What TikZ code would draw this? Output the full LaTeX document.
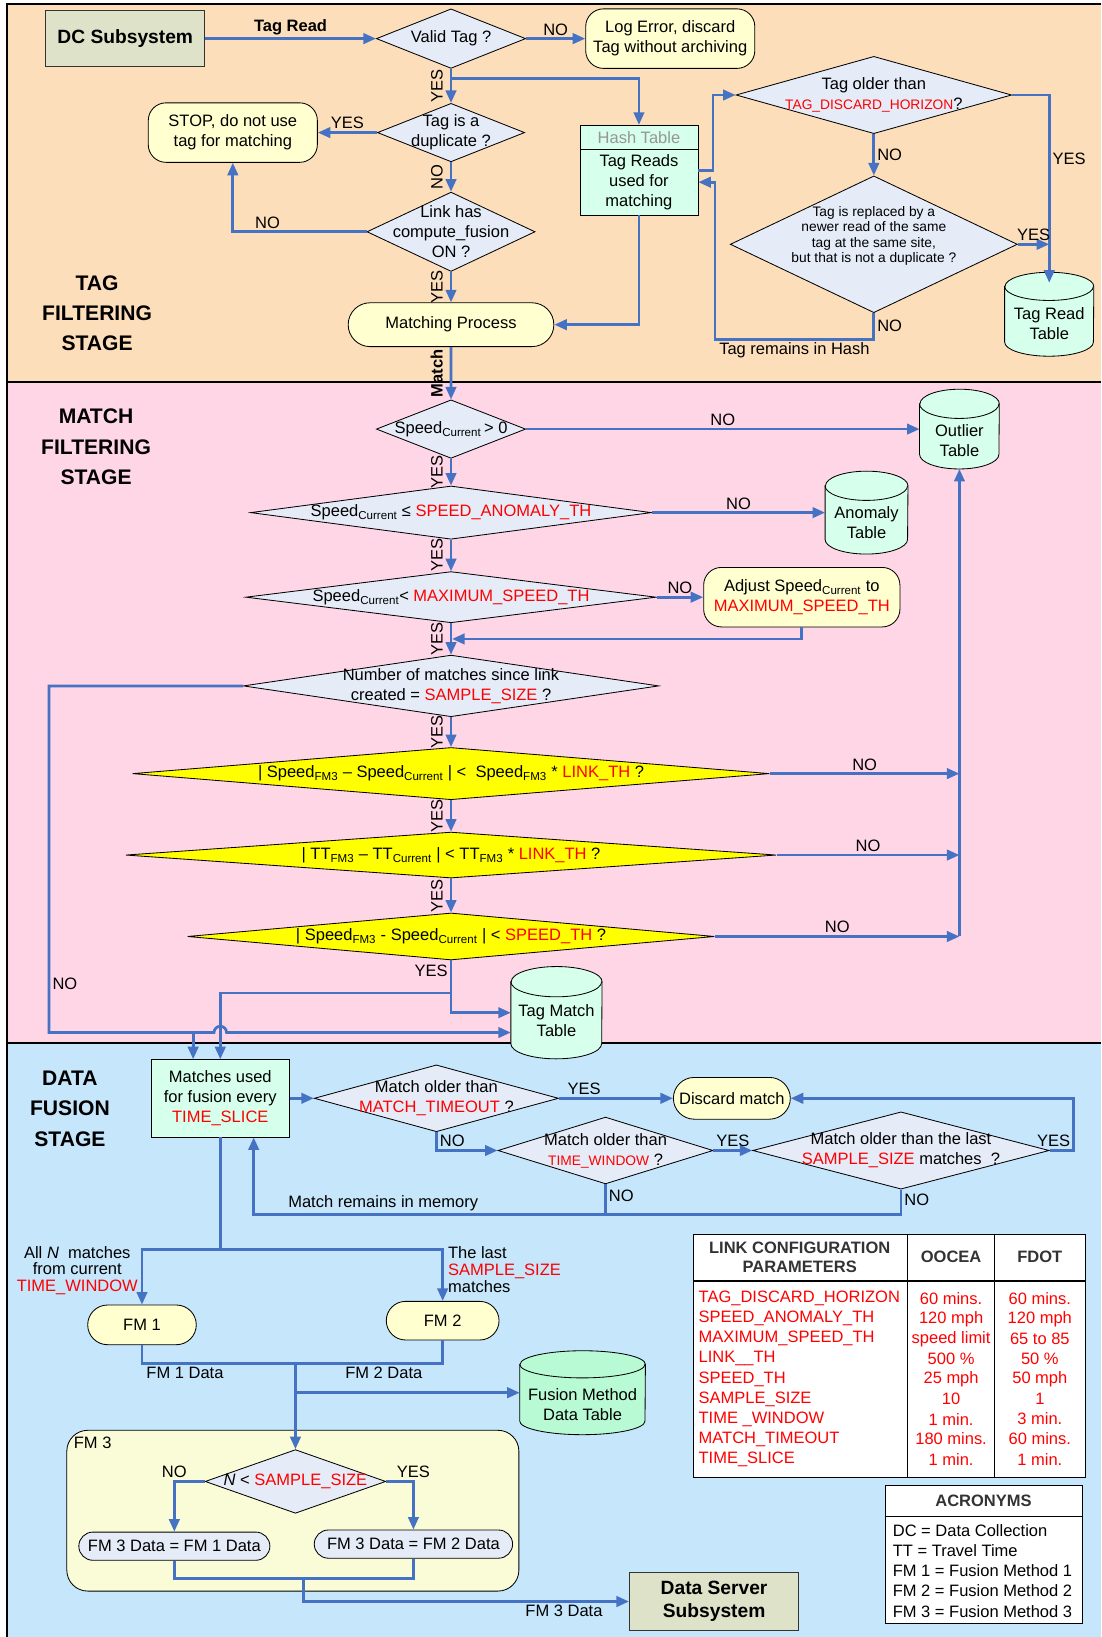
\documentclass[tikz,border=0pt]{standalone}
\usepackage{fontspec}
\setmainfont{Liberation Sans}
\usetikzlibrary{arrows.meta,shapes.geometric,shapes.misc}

\definecolor{tagband}{RGB}{253,222,186}
\definecolor{matchband}{RGB}{255,214,230}
\definecolor{fusionband}{RGB}{198,230,252}
\definecolor{flowblue}{RGB}{70,114,196}
\definecolor{termfill}{RGB}{255,255,208}
\definecolor{askfill}{RGB}{229,236,248}
\definecolor{tablefill}{RGB}{214,255,236}
\definecolor{fusedbfill}{RGB}{184,250,212}
\definecolor{subfill}{RGB}{221,226,200}
\definecolor{fmfill}{RGB}{250,252,215}
\definecolor{hashgrey}{RGB}{150,150,150}
\definecolor{thfill}{RGB}{255,255,0}

\newcommand\nfont{\fontsize{15.8}{19.2}\selectfont}
\newcommand\tightfont{\fontsize{15.8}{16}\selectfont}
\newcommand\sfont{\fontsize{13.2}{14.6}\selectfont}
\newcommand\bfont{\fontsize{18.4}{22}\selectfont\bfseries}
\newcommand\stagefont{\fontsize{20.2}{29}\selectfont\bfseries}
\newcommand\cfg[1]{\textcolor{red}{#1}}

\tikzset{
  border/.style={line width=1.6pt, draw=black},
  flow/.style={draw=flowblue, line width=2.6pt, -{Triangle[length=12pt,width=10pt]}},
  wire/.style={draw=flowblue, line width=2.6pt},
  decision/.style 2 args={diamond, draw=black, line width=0.8pt, fill=askfill, inner sep=0pt, minimum width=#1, minimum height=#2},
  threshold/.style 2 args={decision={#1}{#2}, fill=thfill},
  terminal/.style 2 args={rectangle, rounded corners=17pt, draw=black, line width=0.8pt, fill=termfill, minimum width=#1, minimum height=#2, align=center, inner sep=1pt, font=\nfont},
  pill/.style 2 args={rounded rectangle, draw=black, line width=0.8pt, fill=termfill, minimum width=#1, minimum height=#2, inner sep=1pt, font=\nfont},
  process/.style 2 args={rectangle, draw=black, line width=0.8pt, fill=tablefill, minimum width=#1, minimum height=#2, align=center, inner sep=1pt, font=\nfont},
  subsystem/.style 2 args={rectangle, draw=black!80, line width=1pt, fill=subfill, minimum width=#1, minimum height=#2, align=center, font=\bfont},
  dbtable/.style n args={4}{rectangle, minimum width=#1, minimum height=#2, inner sep=0pt,
    append after command={\pgfextra{
      \draw[line width=0.8pt, fill=#4] ([yshift=-#3pt]\tikzlastnode.north west) -- ([yshift=#3pt]\tikzlastnode.south west)
        arc[start angle=180, end angle=360, x radius=#1*0.5pt, y radius=#3*1pt] -- ([yshift=-#3pt]\tikzlastnode.north east)
        arc[start angle=0, end angle=180, x radius=#1*0.5pt, y radius=#3*1pt] -- cycle;
      \draw[line width=0.8pt] ([yshift=-#3pt]\tikzlastnode.north west) arc[start angle=180, end angle=360, x radius=#1*0.5pt, y radius=#3*1pt];
    }}},
  lbl/.style={font=\nfont, inner sep=2pt},
  vlbl/.style={font=\nfont, rotate=90, anchor=south, inner sep=1pt, outer sep=7pt},
  stage/.style={font=\stagefont, align=center},
  every label/.style={font=\nfont, align=center},
}

\begin{document}
\begin{tikzpicture}[x=1pt, y=-1pt]
\useasboundingbox (0,0) rectangle (1055,1568);
\fill[tagband] (7,4) rectangle (1055,366);
\fill[matchband] (7,366) rectangle (1055,999);
\fill[fusionband] (7,999) rectangle (1055,1568);
\draw[border] (1055,4) -- (7,4) -- (7,1568);
\draw[border] (7,366) -- (1055,366);
\draw[border] (7,999) -- (1055,999);

\node[stage] (tagstage) at (93,300) {TAG\\FILTERING\\STAGE};
\node[stage] (matchstage) at (92,428) {MATCH\\FILTERING\\STAGE};
\node[stage] (fusionstage) at (67,1062) {DATA\\FUSION\\STAGE};

\node[subsystem={152}{53}] (dc) at (120,37) {DC Subsystem};
\node[decision={143}{57}, label={center:Valid Tag ?}] (valid) at (432,37) {};
\node[terminal={162}{57}] (logerr) at (642,37) {Log Error, discard\\Tag without archiving};
\node[decision={141}{56}, label={center:Tag is a\\duplicate ?}] (dup) at (432,127) {};
\node[terminal={162}{57}] (stop) at (223,127) {STOP, do not use\\tag for matching};
\node[decision={161}{76}, label={center:Link has\\compute\_fusion\\ON ?}] (link) at (432,222) {};
\node[pill={199}{42}] (matchproc) at (432,311) {Matching Process};
\node[process={113}{23}, text=hashgrey] (hashhead) at (612,131.5) {Hash Table};
\node[process={113}{63}] (hash) at (612,174.5) {Tag Reads\\used for\\matching};
\node[decision={264}{74}, label={center:Tag older than\\{\sfont\cfg{TAG\_DISCARD\_HORIZON}}?}] (tagolder) at (837,91) {};
\node[decision={275}{131}, label={[font=\sfont, yshift=8pt]center:Tag is replaced by a\\newer read of the same\\tag at the same site,\\but that is not a duplicate ?}] (replaced) at (837,234) {};
\node[dbtable={85}{80}{13.5}{tablefill}, label={[yshift=-9pt]center:Tag Read\\Table}] (tagread) at (1005,301) {};

\draw[flow] (dc) -- node[lbl, above, font=\nfont\bfseries] {Tag Read} (valid);
\draw[flow] (valid) -- node[lbl, above] {NO} (logerr);
\draw[flow] (valid) -- node[vlbl] {YES} (dup);
\coordinate (hashfork) at (432,75);
\draw[flow] (hashfork) -| (hashhead);
\draw[flow] (dup) -- node[lbl, above] {YES} (stop);
\draw[flow] (dup) -- node[vlbl] {NO} (link);
\draw[flow] (link) -| node[lbl, above, pos=0.37] {NO} (stop);
\draw[flow] (link) -- node[vlbl] {YES} (matchproc);
\draw[flow] (hash) |- (matchproc);
\draw[flow] ([yshift=11.5pt]hash.east) -- ++(14,0) |- (tagolder);
\draw[flow] (tagolder) -| node[lbl, right, pos=0.67] {YES} ([yshift=-10pt]tagread.north);
\draw[flow] (tagolder) -- node[lbl, right] {NO} (replaced);
\draw[flow] (replaced) -- node[lbl, above] {YES} (replaced -| tagread);
\draw[flow] (replaced.south) -- node[lbl, right] {NO} ++(0,25) -| node[lbl, below, pos=0.25] {Tag remains in Hash} ([xshift=16pt]hash.east) -- (hash.east);

\node[decision={143}{56}, label={center:Speed\textsubscript{Current}\,> 0}] (spd0) at (432,411) {};
\node[dbtable={76}{76}{14}{tablefill}, label={[yshift=-11pt]center:Outlier\\Table}] (outlier) at (919,411) {};
\node[decision={384}{51}, label={center:Speed\textsubscript{Current} ≤ \cfg{SPEED\_ANOMALY\_TH}}] (anomalyq) at (432,491) {};
\node[dbtable={79}{79}{14}{tablefill}, label={[yshift=-10pt]center:Anomaly\\Table}] (anomaly) at (830,491) {};
\node[decision={393}{49}, label={center:Speed\textsubscript{Current}< \cfg{MAXIMUM\_SPEED\_TH}}] (maxq) at (432,572) {};
\node[terminal={188}{57}] (adjust) at (768,572) {Adjust Speed\textsubscript{Current} to\\\cfg{MAXIMUM\_SPEED\_TH}};
\node[decision={398}{59}, label={center:Number of matches since link\\created = \cfg{SAMPLE\_SIZE} ?}] (countq) at (432,657) {};
\node[threshold={610}{50}, label={center:| Speed\textsubscript{FM3} – Speed\textsubscript{Current} | <\ \ Speed\textsubscript{FM3} * \cfg{LINK\_TH} ?}] (fmspeedq) at (432,741) {};
\node[threshold={623}{44}, label={center:| TT\textsubscript{FM3} – TT\textsubscript{Current} | < TT\textsubscript{FM3} * \cfg{LINK\_TH} ?}] (fmttq) at (432,819) {};
\node[threshold={505}{45}, label={center:| Speed\textsubscript{FM3} - Speed\textsubscript{Current} | < \cfg{SPEED\_TH} ?}] (spdthq) at (432,897) {};
\node[dbtable={87}{88}{14.5}{tablefill}, label={[yshift=-8pt]center:Tag Match\\Table}] (tagmatch) at (533,970) {};

\draw[flow] (matchproc) -- node[vlbl, font=\nfont\bfseries] {Match} (spd0);
\draw[flow] (spd0) -- node[lbl, above] {NO} (outlier);
\draw[flow] (spd0) -- node[vlbl] {YES} (anomalyq);
\draw[flow] (anomalyq) -- node[lbl, above] {NO} (anomaly);
\draw[flow] (anomalyq) -- node[vlbl] {YES} (maxq);
\draw[flow] (maxq) -- node[lbl, above] {NO} (adjust);
\coordinate (maxmerge) at (433,612);
\draw[flow] (adjust) |- (maxmerge);
\draw[flow] (maxq) -- node[vlbl] {YES} (countq);
\draw[flow] (countq) -- node[vlbl] {YES} (fmspeedq);
\draw[flow] (fmspeedq) -- node[lbl, above] {NO} (fmspeedq -| outlier);
\draw[flow] (fmspeedq) -- node[vlbl] {YES} (fmttq);
\draw[flow] (fmttq) -- node[lbl, above] {NO} (fmttq -| outlier);
\draw[flow] (fmttq) -- node[vlbl] {YES} (spdthq);
\draw[flow] (spdthq) -- node[lbl, above] {NO} (spdthq -| outlier);
\draw[flow] (spdthq -| outlier) -- (outlier);
\draw[flow] (spdthq) |- node[lbl, left, pos=0.1] {YES} (tagmatch);

\node[process={132}{74}] (fusebox) at (211,1052) {Matches used\\for fusion every\\\cfg{TIME\_SLICE}};

\coordinate (yesfork) at (432,951);
\draw[flow] (yesfork) -| (fusebox);
\coordinate (nocorner) at (47,989);
\coordinate (hopstart) at (205,989);
\coordinate (nofork) at (185,989);
\draw[flow] (countq) -| node[lbl, right, pos=0.93] {NO} (nocorner) -- (hopstart) arc[start angle=180, end angle=0, radius=6pt] -- ([yshift=-19pt]tagmatch.west);
\draw[flow] (nofork) -- (nofork |- fusebox.north);

\node[decision={234}{64}, label={center:Match older than\\\cfg{MATCH\_TIMEOUT} ?}] (timeoutq) at (418,1052) {};
\node[pill={114}{40}] (discard) at (701,1052) {Discard match};
\node[decision={206}{64}, label={center:Match older than\\{\sfont\cfg{TIME\_WINDOW}} ?}] (windowq) at (580,1102) {};
\node[decision={284}{74}, label={center:Match older than the last\\\cfg{SAMPLE\_SIZE} matches\ \ ?}] (lastq) at (863,1102) {};
\node[pill={106}{38}] (fm1) at (136,1269) {FM 1};
\node[pill={110}{37}] (fm2) at (424,1265) {FM 2};
\node[dbtable={120}{80}{13}{fusedbfill}, label={[yshift=-11pt]center:Fusion Method\\Data Table}] (fmtable) at (558,1334) {};
\node[rectangle, rounded corners=20pt, draw=black, line width=0.8pt, fill=fmfill, minimum width=433, minimum height=154] (fm3) at (280.5,1447) {};
\node[lbl, anchor=north west, inner sep=7pt] (fm3title) at (fm3.north west) {FM 3};
\node[decision={173}{61}, label={center:\textit{N} < \cfg{SAMPLE\_SIZE}}] (nq) at (283,1419) {};
\node[pill={185}{27}, fill=askfill] (fm3a) at (167,1481) {FM 3 Data = FM 1 Data};
\node[pill={192}{27}, fill=askfill] (fm3b) at (396,1479) {FM 3 Data = FM 2 Data};
\node[subsystem={162}{55}] (server) at (684,1534) {Data Server\\Subsystem};

\draw[flow] (fusebox) -- (timeoutq);
\draw[flow] (timeoutq) -- node[lbl, above, pos=0.22] {YES} (discard);
\draw[flow] (timeoutq) |- node[lbl, right, pos=0.25] {NO} (windowq);
\draw[flow] (windowq) -- node[lbl, above] {YES} (lastq);
\draw[flow] (lastq.east) -- node[lbl, above left, pos=1] {YES} ++(23,0) |- (discard);
\coordinate (memcorner) at (243,1163);
\draw[flow] (lastq) |- node[lbl, right, pos=0.2] {NO} node[lbl, above, pos=0.9] {Match remains in memory} (memcorner) -- (memcorner |- fusebox.south);
\draw[wire] (windowq) -- node[lbl, right, pos=0.38] {NO} (windowq |- memcorner);

\coordinate (fmsplit) at (211,1197);
\draw[wire] (fusebox) -- (fmsplit);
\draw[flow] (fmsplit) -| (fm1);
\draw[flow] (fmsplit) -| (fm2);
\node[lbl, align=center, font=\tightfont] (fm1note) at (74,1217) {All \textit{N}\ \ matches\\from current\\\cfg{TIME\_WINDOW}};
\node[lbl, align=left, anchor=west, font=\tightfont] (fm2note) at (427,1216) {The last\\\cfg{SAMPLE\_SIZE}\\matches};
\coordinate (fmjoin) at (283,1306);
\draw[wire] (fm1) |- node[lbl, below, pos=0.64] {FM 1 Data} (fmjoin);
\draw[wire] (fm2) |- node[lbl, below, pos=0.7] {FM 2 Data} (fmjoin);
\draw[flow] (fmjoin) -- (nq);
\coordinate (dbfork) at (283,1334);
\draw[flow] (dbfork) -- (fmtable);
\draw[flow] (nq) -| node[lbl, above, pos=0.5] {NO} (fm3a);
\draw[flow] (nq) -| node[lbl, above, pos=0.5] {YES} (fm3b);
\coordinate (fm3join) at (291,1512);
\draw[wire] (fm3a) |- (fm3join);
\draw[wire] (fm3b) |- (fm3join);
\draw[flow] (fm3join) |- node[lbl, below, pos=0.9] {FM 3 Data} (server);

\draw[line width=1pt, fill=white] (664,1182) rectangle (1040,1415);
\draw[line width=1pt] (664,1227) -- (1040,1227);
\draw[line width=1pt] (869,1182) -- (869,1415);
\draw[line width=1pt] (953,1182) -- (953,1415);
\node[font=\fontsize{15.8}{18.5}\selectfont\bfseries, align=center, text=black!80] (cfghead) at (766,1204) {LINK CONFIGURATION\\PARAMETERS};
\node[font=\nfont\bfseries, text=black!80] (ooceahead) at (911,1204) {OOCEA};
\node[font=\nfont\bfseries, text=black!80] (fdothead) at (996,1204) {FDOT};
\foreach \pname/\oocea/\fdot [count=\i from 0] in {TAG\_DISCARD\_HORIZON/60 mins./60 mins., SPEED\_ANOMALY\_TH/120 mph/120 mph, MAXIMUM\_SPEED\_TH/speed limit/65 to 85, LINK\_\_TH/500 \%/50 \%, SPEED\_TH/25 mph/50 mph, SAMPLE\_SIZE/10/1, TIME \_WINDOW/1 min./3 min., MATCH\_TIMEOUT/180 mins./60 mins., TIME\_SLICE/1 min./1 min.}
{
  \node[lbl, anchor=west, text=red] (par\i) at (667,{1244+19.2*\i}) {\pname};
  \node[lbl, text=red] (oocea\i) at (911,{1244+19.2*\i}) {\oocea};
  \node[lbl, text=red] (fdot\i) at (996,{1244+19.2*\i}) {\fdot};
}

\draw[line width=1pt, fill=white] (848,1423) rectangle (1037,1555);
\draw[line width=1pt] (848,1453) -- (1037,1453);
\node[font=\nfont\bfseries, text=black!80] (acrohead) at (942,1438) {ACRONYMS};
\foreach \acro [count=\i from 0] in {DC = Data Collection, TT = Travel Time, FM 1 = Fusion Method 1, FM 2 = Fusion Method 2, FM 3 = Fusion Method 3}
  \node[lbl, anchor=west] (acro\i) at (853,{1466+19.3*\i}) {\acro};
\end{tikzpicture}
\end{document}
